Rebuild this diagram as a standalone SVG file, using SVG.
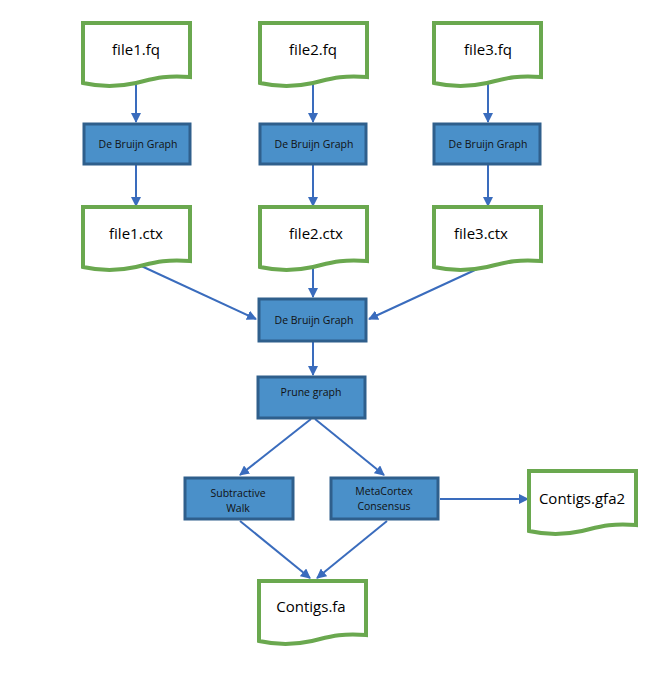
<svg xmlns="http://www.w3.org/2000/svg" width="659" height="683" viewBox="0 0 659 683">
<style>
.doc{fill:#fff;stroke:#6aa84f;stroke-width:4}
.box{fill:#4a90c9;stroke:#2f5f8c;stroke-width:3}
.dt{font-family:"Open Sans","Liberation Sans",sans-serif;font-size:15px;text-anchor:middle;fill:#000}
.bt{font-family:"Open Sans","Liberation Sans",sans-serif;font-size:10.5px;text-anchor:middle;fill:#111}
.c{stroke:#3a6cbd;stroke-width:2;fill:none;marker-end:url(#a)}
</style>
<defs>
<marker id="a" markerWidth="10" markerHeight="10" refX="9" refY="5" orient="auto" markerUnits="userSpaceOnUse"><path d="M0,0 L10,5 L0,10 Z" fill="#3a6cbd"/></marker>
<path id="d" d="M0,0 H107 V54 C80,52 70,56 53,60 C35,64 18,64 0,60 Z"/>
</defs>
<g id="connectors">
<line class="c" x1="136" y1="84" x2="136" y2="122"/>
<line class="c" x1="313" y1="84" x2="313" y2="122"/>
<line class="c" x1="488" y1="84" x2="488" y2="122"/>
<line class="c" x1="136" y1="165" x2="136" y2="206"/>
<line class="c" x1="313" y1="165" x2="313" y2="206"/>
<line class="c" x1="488" y1="165" x2="488" y2="206"/>
<line class="c" x1="137" y1="264" x2="256" y2="319"/>
<line class="c" x1="313" y1="265" x2="313" y2="297"/>
<line class="c" x1="488" y1="264" x2="369" y2="319"/>
<line class="c" x1="313" y1="342" x2="313" y2="375"/>
<line class="c" x1="311" y1="419" x2="240" y2="475"/>
<line class="c" x1="315" y1="419" x2="384" y2="475"/>
<line class="c" x1="240" y1="521" x2="310" y2="578"/>
<line class="c" x1="387" y1="521" x2="317" y2="578"/>
<line class="c" x1="440" y1="499" x2="528" y2="499"/>
</g>
<g id="file1fq"><use href="#d" class="doc" x="83" y="23"/><text class="dt" x="136" y="55">file1.fq</text></g>
<g id="file2fq"><use href="#d" class="doc" x="260" y="23"/><text class="dt" x="313" y="55">file2.fq</text></g>
<g id="file3fq"><use href="#d" class="doc" x="434" y="23"/><text class="dt" x="488" y="55">file3.fq</text></g>
<g id="dbg1"><rect class="box" x="84" y="124" width="106" height="40"/><text class="bt" x="138" y="148">De Bruijn Graph</text></g>
<g id="dbg2"><rect class="box" x="260" y="124" width="106" height="40"/><text class="bt" x="314" y="148">De Bruijn Graph</text></g>
<g id="dbg3"><rect class="box" x="434" y="124" width="106" height="40"/><text class="bt" x="488" y="148">De Bruijn Graph</text></g>
<g id="file1ctx"><use href="#d" class="doc" x="83" y="207"/><text class="dt" x="136" y="239">file1.ctx</text></g>
<g id="file2ctx"><use href="#d" class="doc" x="260" y="207"/><text class="dt" x="316" y="239">file2.ctx</text></g>
<g id="file3ctx"><use href="#d" class="doc" x="434" y="207"/><text class="dt" x="481" y="239">file3.ctx</text></g>
<g id="dbgc"><rect class="box" x="259" y="299" width="107" height="42"/><text class="bt" x="314" y="324">De Bruijn Graph</text></g>
<g id="prune"><rect class="box" x="258" y="377" width="107" height="41"/><text class="bt" x="311" y="396">Prune graph</text></g>
<g id="subwalk"><rect class="box" x="185" y="478" width="108" height="41"/><text class="bt" x="238" y="497">Subtractive</text><text class="bt" x="238" y="512">Walk</text></g>
<g id="metacortex"><rect class="box" x="331" y="478" width="107" height="41"/><text class="bt" x="384" y="495">MetaCortex</text><text class="bt" x="384" y="510">Consensus</text></g>
<g id="gfa2"><use href="#d" class="doc" x="529" y="471"/><text class="dt" x="582" y="504">Contigs.gfa2</text></g>
<g id="contigsfa"><use href="#d" class="doc" x="259" y="581"/><text class="dt" x="311" y="612">Contigs.fa</text></g>
</svg>
